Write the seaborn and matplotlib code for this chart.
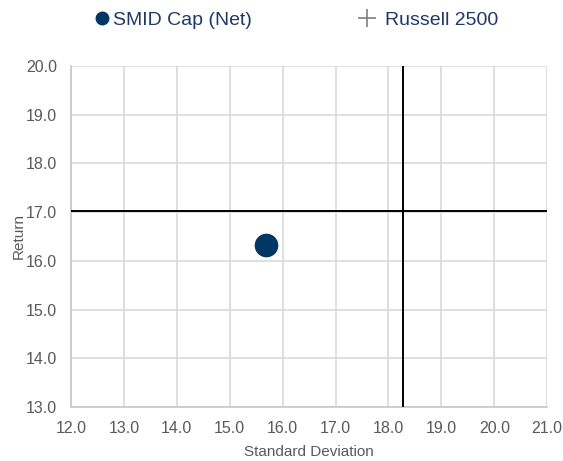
import matplotlib
matplotlib.use("Agg")
import matplotlib.pyplot as plt
from matplotlib.lines import Line2D
import seaborn as sns
import pandas as pd

# Data
fund_names = ["SMID Cap (Net)"]
fund_std = [15.69]
fund_return = [16.32]

bench_name = "Russell 2500"
bench_std = 18.27
bench_return = 17.03

x_ticks = [12.0, 13.0, 14.0, 15.0, 16.0, 17.0, 18.0, 19.0, 20.0, 21.0]
y_ticks = [13.0, 14.0, 15.0, 16.0, 17.0, 18.0, 19.0, 20.0]

sns.set_style("white")
plt.rcParams['font.family'] = ['Liberation Sans', 'DejaVu Sans']

navy = "#003764"
grey_txt = "#595959"
legend_txt = "#1f3864"

fig = plt.figure(figsize=(5.63, 4.61), dpi=100)
ax = fig.add_axes([0.126, 0.117, 0.846, 0.740])

df = pd.DataFrame({"std": fund_std, "ret": fund_return, "name": fund_names})
sns.scatterplot(data=df, x="std", y="ret", ax=ax, s=290, color=navy,
                edgecolor=navy, linewidth=0, legend=False, zorder=4)

# benchmark crosshair spanning whole plot
ax.axvline(bench_std, color="black", lw=1.4, zorder=3)
ax.axhline(bench_return, color="black", lw=1.4, zorder=3)

ax.set_xlim(x_ticks[0], x_ticks[-1])
ax.set_ylim(y_ticks[0], y_ticks[-1])
ax.set_xticks(x_ticks)
ax.set_yticks(y_ticks)
ax.set_xticklabels([f"{v:.1f}" for v in x_ticks])
ax.set_yticklabels([f"{v:.1f}" for v in y_ticks])
ax.grid(True, color="#d9d9d9", lw=1.2, zorder=0)
ax.set_axisbelow(True)
for side in ["top", "right"]:
    ax.spines[side].set_visible(False)
for side in ["left", "bottom"]:
    ax.spines[side].set_color("#c8c8c8")
    ax.spines[side].set_linewidth(1.2)
ax.tick_params(axis="both", colors=grey_txt, labelsize=11.5, length=0)
ax.tick_params(axis="x", pad=10)
ax.tick_params(axis="y", pad=10)

ax.set_xlabel("Standard Deviation", color=grey_txt, fontsize=11, va="center")
ax.xaxis.set_label_coords(0.5, -0.132)
ax.set_ylabel("Return", color=grey_txt, fontsize=11, va="center")
ax.yaxis.set_label_coords(-0.110, 0.5)

# legend: two separate entries placed like the reference
h_fund = Line2D([], [], marker="o", color=navy, ls="none", markersize=9)
h_bench = Line2D([], [], marker="+", color="#7f7f7f", ls="none", markersize=13,
                 markeredgewidth=1.2)
fig.legend([h_fund], [fund_names[0]], loc="center left",
           bbox_to_anchor=(92 / 563, 1 - 20 / 461), frameon=False,
           fontsize=14, labelcolor=legend_txt, handlelength=1.0,
           handletextpad=0.1, borderpad=0, borderaxespad=0)
fig.legend([h_bench], [bench_name], loc="center left",
           bbox_to_anchor=(353 / 563, 1 - 20 / 461), frameon=False,
           fontsize=14, labelcolor=legend_txt, handlelength=1.4,
           handletextpad=0.24, borderpad=0, borderaxespad=0)

fig.savefig("out.png", dpi=100)
